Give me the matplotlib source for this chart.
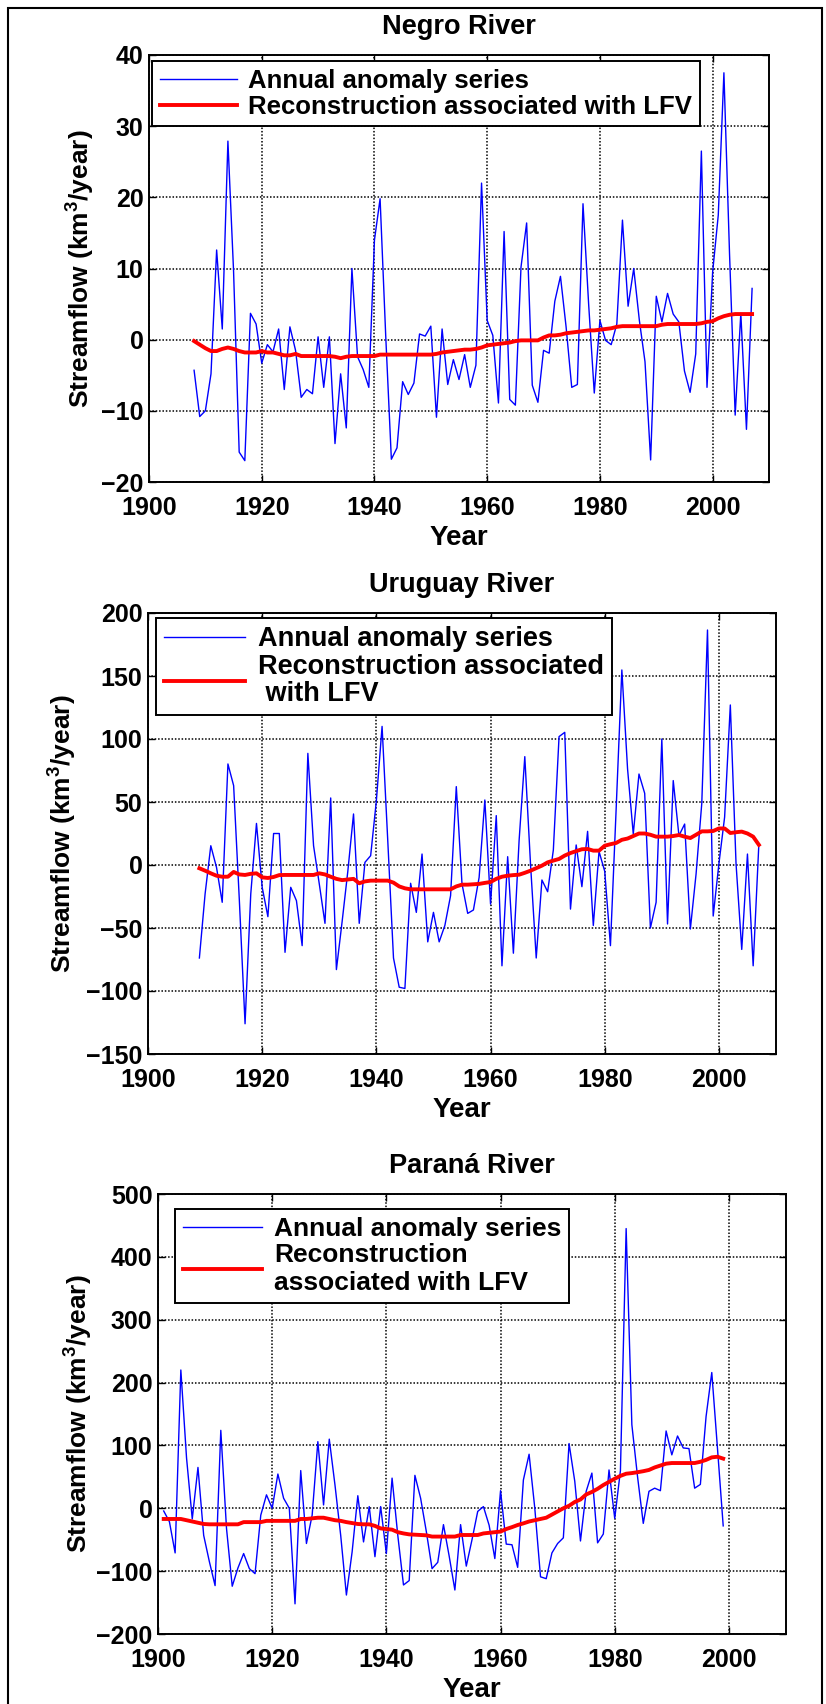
import numpy as np
import matplotlib
matplotlib.use("Agg")
import matplotlib.pyplot as plt
from matplotlib.patches import Rectangle

plt.rcParams['font.family'] = ['Liberation Sans', 'DejaVu Sans']
plt.rcParams['font.weight'] = 'bold'
plt.rcParams['mathtext.fontset'] = 'custom'
plt.rcParams['mathtext.rm'] = 'Liberation Sans:bold'
plt.rcParams['mathtext.it'] = 'Liberation Sans:bold'
plt.rcParams['mathtext.bf'] = 'Liberation Sans:bold'

# ---- data ----
negro_years = np.arange(1908, 2008)
negro_anom = [
    -4.3, -10.8, -10.0, -4.8, 12.6, 1.5, 27.9, 9.7, -15.8, -17.0,
    3.7, 2.2, -3.3, -0.7, -1.7, 1.5, -7.0, 1.8, -1.5, -8.1,
    -7.0, -7.6, 0.4, -6.7, 0.4, -14.6, -4.8, -12.4, 10.0, -2.4,
    -4.2, -6.7, 14.0, 19.8, 0.5, -16.8, -15.2, -5.9, -7.7, -6.1,
    0.8, 0.5, 1.9, -10.9, 1.5, -6.3, -2.8, -5.6, -2.1, -6.7,
    -3.6, 22.0, 2.7, 0.6, -8.9, 15.2, -8.4, -9.2, 10.2, 16.4,
    -6.4, -8.8, -1.5, -1.9, 5.4, 8.9, 1.8, -6.7, -6.3, 19.1,
    5.0, -7.5, 2.7, -0.1, -0.7, 2.2, 16.8, 4.7, 10.0, 2.7,
    -3.1, -16.9, 6.1, 2.5, 6.5, 3.6, 2.5, -4.4, -7.4, -2.0,
    26.5, -6.7, 9.5, 17.5, 37.5, 12.0, -10.6, 3.7, -12.6, 7.2]
negro_lfv = [
    -0.2, -0.7, -1.2, -1.6, -1.6, -1.3, -1.1, -1.3, -1.6, -1.8,
    -1.8, -1.8, -1.6, -1.8, -1.8, -2.0, -2.2, -2.2, -2.0, -2.3,
    -2.3, -2.3, -2.3, -2.3, -2.3, -2.4, -2.6, -2.4, -2.3, -2.3,
    -2.3, -2.3, -2.3, -2.1, -2.1, -2.1, -2.1, -2.1, -2.1, -2.1,
    -2.1, -2.1, -2.1, -2.0, -1.8, -1.7, -1.6, -1.5, -1.4, -1.4,
    -1.3, -1.1, -0.8, -0.7, -0.6, -0.5, -0.4, -0.2, -0.1, -0.1,
    -0.1, -0.1, 0.3, 0.6, 0.6, 0.7, 0.9, 1.0, 1.1, 1.2,
    1.3, 1.3, 1.4, 1.5, 1.6, 1.8, 1.9, 1.9, 1.9, 1.9,
    1.9, 1.9, 1.9, 2.1, 2.2, 2.2, 2.2, 2.2, 2.2, 2.2,
    2.3, 2.5, 2.6, 3.0, 3.3, 3.5, 3.6, 3.6, 3.6, 3.6]

uruguay_years = np.arange(1909, 2008)
uruguay_anom = [
    -73.8, -23, 15.3, -1.9, -29.6, 80.2, 63, -28, -126, -23,
    33, -17.7, -41, 25, 25, -69.3, -17.7, -28.3, -64, 88.6,
    15.3, -15, -46.3, 53.2, -83, -45, -5, 40.5, -46.3, 2.1,
    7.4, 51, 110, 19, -73.8, -97, -98, -14.5, -37.6, 8.7,
    -61, -37.6, -61, -48, -24.3, 62.2, -15, -38.4, -35.7, -9.8,
    51.6, -31, 39.2, -80, 6.6, -70, 19.3, 86, 0.8, -73.8,
    -11.9, -21.2, 11.9, 101.9, 105.3, -35, 15.9, -17.2, 26.7, -48,
    10.8, -5, -64, 44.4, 154.8, 76.2, 24.6, 72.2, 56.9, -50,
    -29.6, 100, -46.8, 67, 23.3, 32.5, -50.8, -7.1, 49, 186.5,
    -40.5, 1, 38, 127, 1, -67, 8.7, -80, 16.9]
uruguay_lfv = [
    -2.6, -4.5, -6.6, -8.5, -9.3, -9.3, -5.5, -7.5, -7.9, -7.0,
    -6.6, -9.8, -10.3, -9.5, -8.0, -7.9, -7.9, -7.9, -7.9, -7.9,
    -7.9, -6.6, -7.5, -9.3, -11.0, -12.0, -11.5, -11.0, -14.5, -13.0,
    -12.4, -12.4, -12.4, -12.4, -14.0, -17.0, -18.5, -19.3, -19.3, -19.3,
    -19.3, -19.3, -19.3, -19.3, -19.3, -17.0, -15.6, -15.6, -15.3, -15.0,
    -14.2, -13.5, -11.0, -9.3, -8.5, -8.0, -7.7, -6.2, -4.5, -2.5,
    -0.5, 2.1, 3.5, 4.8, 7.5, 9.5, 11.0, 12.5, 12.7, 11.4,
    11.4, 15.3, 16.5, 17.5, 20.0, 21.0, 23.0, 25.0, 25.0, 24.0,
    22.5, 22.5, 22.5, 23.0, 23.8, 22.5, 21.4, 24.0, 26.7, 26.7,
    27.0, 29.0, 29.0, 25.4, 26.0, 26.5, 25.0, 22.5, 16.0]

parana_years = np.arange(1901, 2000)
parana_anom = [
    -4.3, -21.4, -71, 220, 80, -17, 65, -43, -85, -123,
    124, -32, -124, -95, -72, -96, -104, -11, 21.4, 0,
    54.5, 16, 0, -152, 60, -56, -11, 106, 5.3, 110,
    37, -43, -138, -69.5, 20, -53.5, 2.7, -77, 2.7, -72,
    48, -43, -122, -115, 52.4, 16, -37, -96, -86, -26,
    -76, -130, -26, -92, -50, -5, 2.7, -27, -80, 28,
    -57, -58, -94, 45, 86, 0, -109, -112, -71, -56,
    -47, 103, 43, -52, 27, 56, -55, -41, 61, -16,
    60, 445, 133, 50, -24, 27, 32, 28, 123, 85,
    115, 96, 95, 32, 38, 146, 216, 95, -28]
parana_lfv = [
    -17, -17, -17, -17, -19, -21, -23, -25, -25.5, -25.5,
    -25.5, -25.5, -25.5, -25.5, -22, -22, -22, -22, -20, -20,
    -20, -20, -20, -20, -17, -17, -16, -15, -15, -17,
    -19, -20, -22, -23.5, -25, -25.5, -25.5, -28, -32, -33,
    -34, -38, -40, -41.5, -42, -42.5, -43, -45, -45, -45,
    -45, -45, -42.5, -42.5, -42.5, -42.5, -40, -39, -38, -37,
    -33, -30, -26.6, -24, -21, -19, -17, -15, -10, -5,
    0, 4, 10, 14, 22, 26, 31, 37, 42, 47,
    51.6, 55, 56, 57.4, 59, 61, 65, 68, 71, 72,
    72, 72, 72, 72, 74, 77, 81, 82, 79]

titles = ['Negro River', 'Uruguay River', 'Paran\u00e1 River']
anom_label = 'Annual anomaly series'
lfv_labels = ['Reconstruction associated with LFV',
              'Reconstruction associated\n with LFV',
              'Reconstruction\nassociated with LFV']
ylims = [(-20, 40), (-150, 200), (-200, 500)]
yticks = [np.arange(-20, 41, 10), np.arange(-150, 201, 50), np.arange(-200, 501, 100)]

W, H = 826, 1704
fig = plt.figure(figsize=(W / 100, H / 100), dpi=100)

# axes boxes in pixels: left, top, right, bottom
boxes = [(149, 55, 769, 482), (148, 613, 776, 1054), (158, 1194, 786, 1634)]
ylabel_x = [90, 72, 88]
legend_pos = [(152, 61), (156, 618), (175, 1209)]
legend_size = [18.5, 19.5, 19.0]
legend_linesp = [1.0, 1.05, 1.2]

series = [(negro_years, negro_anom, negro_lfv),
          (uruguay_years, uruguay_anom, uruguay_lfv),
          (parana_years, parana_anom, parana_lfv)]

for i, (yrs, anom, lfv) in enumerate(series):
    l, t, r, b = boxes[i]
    ax = fig.add_axes([l / W, 1 - b / H, (r - l) / W, (b - t) / H])
    ax.plot(yrs, anom, color='b', lw=1.0, label=anom_label)
    ax.plot(yrs, lfv, color='r', lw=2.8, label=lfv_labels[i])
    ax.set_xlim(1900, 2010)
    ax.set_ylim(*ylims[i])
    ax.set_xticks(np.arange(1900, 2001, 20))
    ax.set_yticks(yticks[i])
    ax.grid(True, color='k', linestyle=(0, (1, 1.2)), linewidth=1.1)
    ax.set_axisbelow(True)
    ax.tick_params(direction='in', top=True, right=True, length=5, width=1,
                   labelsize=18, pad=4)
    ax.tick_params(axis='x', pad=10)
    for s in ax.spines.values():
        s.set_linewidth(1.4)

    leg = ax.legend(loc='upper left', bbox_to_anchor=(legend_pos[i][0] / W, 1 - legend_pos[i][1] / H),
                    bbox_transform=fig.transFigure, borderaxespad=0, fancybox=False,
                    edgecolor='k', framealpha=1, borderpad=0.3, labelspacing=0.08,
                    handlelength=3.0, handletextpad=0.45,
                    prop={'weight': 'bold', 'size': legend_size[i]})
    leg.get_frame().set_linewidth(1.4)
    for txt in leg.get_texts():
        txt.set_linespacing(legend_linesp[i])

    cx = (l + r) / 2 / W
    fig.text(cx, 1 - (t - 21) / H, titles[i], ha='center', va='baseline',
             fontsize=19.5, fontweight='bold')
    fig.text(cx, 1 - (b + 63) / H, 'Year', ha='center', va='baseline',
             fontsize=20, fontweight='bold')
    fig.text(ylabel_x[i] / W, 1 - (t + b) / 2 / H, 'Streamflow (km$^3$/year)',
             ha='center', va='baseline', rotation=90, rotation_mode='anchor',
             fontsize=19, fontweight='bold')

# outer frame around the whole figure
fig.add_artist(Rectangle((8 / W, -0.01), (822 - 8) / W, 1.01 - 8 / H,
                         transform=fig.transFigure, fill=False, ec='k', lw=1.5))

fig.savefig('out.png', dpi=100)
